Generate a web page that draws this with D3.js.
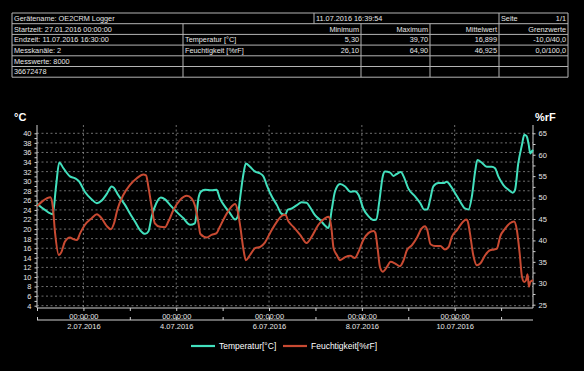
<!DOCTYPE html>
<html>
<head>
<meta charset="utf-8">
<script src="https://cdn.jsdelivr.net/npm/d3@7"></script>
<style>
  html, body { margin: 0; padding: 0; background: #000; }
  svg { display: block; }
</style>
</head>
<body>
<svg id="chart" width="584" height="371"></svg>
<script>
// Header table texts
const headerRow = ["Gerätename: OE2CRM Logger", "11.07.2016 16:39:54", "Seite", "1/1"];
const infoLabels = ["Startzeit: 27.01.2016 00:00:00", "Endzeit: 11.07.2016 16:30:00", "Messkanäle: 2", "Messwerte: 8000", "36672478"];
const statHeaders = ["Minimum", "Maximum", "Mittelwert", "Grenzwerte"];
const channelNames = ["Temperatur [°C]", "Feuchtigkeit [%rF]"];
const statValues = [
  ["5,30", "39,70", "16,899", "-10,0/40,0"],
  ["26,10", "64,90", "46,925", "0,0/100,0"]
];

// Series: days since 01.07.2016 00:00
const tempDays = [0, 0.17, 0.34, 0.41, 0.48, 0.57, 0.71, 0.82, 0.91, 1.03, 1.18, 1.29, 1.39, 1.5, 1.61, 1.66, 1.75, 1.9, 2.0, 2.11, 2.22, 2.33, 2.4, 2.47, 2.57, 2.67, 2.76, 2.87, 3.01, 3.15, 3.3, 3.4, 3.44, 3.48, 3.53, 3.62, 3.76, 3.87, 3.94, 4.05, 4.16, 4.27, 4.32, 4.38, 4.45, 4.5, 4.59, 4.7, 4.81, 4.88, 4.95, 5.06, 5.17, 5.27, 5.35, 5.4, 5.49, 5.6, 5.7, 5.81, 5.88, 5.99, 6.1, 6.21, 6.28, 6.35, 6.42, 6.53, 6.64, 6.75, 6.85, 6.93, 7.03, 7.14, 7.25, 7.31, 7.38, 7.45, 7.5, 7.61, 7.68, 7.75, 7.84, 7.9, 8.0, 8.15, 8.26, 8.34, 8.41, 8.47, 8.54, 8.65, 8.76, 8.83, 8.9, 9.01, 9.12, 9.22, 9.3, 9.37, 9.44, 9.49, 9.58, 9.69, 9.8, 9.87, 9.94, 10.05, 10.16, 10.25, 10.3, 10.37, 10.45, 10.5, 10.55, 10.59, 10.63, 10.66, 10.69];
const tempValues = [25.3, 24.0, 23.1, 28.9, 33.9, 32.7, 31.0, 30.6, 29.9, 27.8, 26.2, 25.4, 25.9, 27.3, 28.9, 28.6, 27.1, 25.0, 23.3, 21.6, 19.8, 19.0, 19.5, 22.6, 25.4, 26.6, 26.2, 25.0, 23.6, 22.3, 20.9, 21.2, 23.3, 26.5, 27.8, 28.2, 28.1, 28.2, 26.4, 24.7, 23.3, 22.0, 22.5, 26.8, 31.6, 33.7, 33.0, 32.0, 31.6, 31.0, 29.2, 26.8, 25.0, 23.2, 23.0, 24.0, 24.3, 25.0, 25.6, 25.5, 24.6, 22.9, 21.9, 20.7, 20.2, 24.0, 27.8, 29.4, 28.9, 27.8, 27.9, 27.1, 24.3, 22.7, 21.9, 22.0, 26.1, 31.0, 32.0, 31.8, 31.1, 31.5, 31.9, 31.0, 28.5, 26.8, 25.4, 24.1, 24.1, 26.1, 28.9, 29.6, 29.6, 29.9, 29.2, 27.5, 25.7, 24.3, 24.1, 26.8, 32.0, 34.4, 33.9, 33.0, 33.0, 32.7, 31.0, 29.2, 28.2, 27.6, 28.2, 33.7, 37.6, 39.7, 39.4, 37.9, 35.8, 36.2, 36.5];

const humDays = [0, 0.1, 0.21, 0.29, 0.34, 0.39, 0.47, 0.53, 0.6, 0.71, 0.78, 0.86, 0.93, 1.03, 1.18, 1.29, 1.39, 1.5, 1.59, 1.66, 1.73, 1.86, 2.0, 2.15, 2.29, 2.35, 2.4, 2.47, 2.54, 2.65, 2.76, 2.83, 2.94, 3.08, 3.23, 3.33, 3.41, 3.48, 3.52, 3.66, 3.76, 3.87, 3.94, 4.05, 4.16, 4.27, 4.32, 4.38, 4.45, 4.5, 4.59, 4.7, 4.81, 4.91, 5.02, 5.17, 5.27, 5.35, 5.42, 5.52, 5.67, 5.81, 5.92, 6.06, 6.21, 6.29, 6.34, 6.39, 6.46, 6.53, 6.64, 6.75, 6.85, 6.93, 7.03, 7.14, 7.25, 7.29, 7.34, 7.39, 7.45, 7.54, 7.62, 7.72, 7.82, 7.9, 7.97, 8.08, 8.18, 8.29, 8.36, 8.41, 8.48, 8.58, 8.69, 8.79, 8.87, 8.94, 9.05, 9.15, 9.25, 9.28, 9.33, 9.4, 9.48, 9.55, 9.66, 9.76, 9.85, 9.91, 9.98, 10.09, 10.19, 10.28, 10.34, 10.4, 10.45, 10.5, 10.54, 10.57, 10.6, 10.63, 10.69];
const humValues = [48.0, 49.0, 49.8, 50.1, 47.9, 41.7, 36.6, 37.4, 39.7, 40.7, 40.3, 40.1, 41.7, 43.6, 45.2, 46.1, 45.2, 43.4, 42.6, 44.0, 47.1, 50.6, 52.9, 54.5, 55.4, 55.2, 52.5, 47.9, 44.0, 43.2, 43.1, 44.4, 47.1, 49.4, 50.4, 49.8, 47.9, 44.0, 41.5, 40.7, 41.3, 41.7, 43.2, 45.5, 47.5, 48.5, 47.1, 43.2, 37.8, 35.4, 36.6, 38.2, 38.5, 39.5, 41.7, 44.4, 45.7, 46.0, 44.4, 43.2, 41.3, 39.4, 40.9, 43.6, 45.2, 45.5, 43.2, 38.2, 36.6, 35.4, 36.1, 36.4, 35.9, 37.4, 40.1, 41.7, 42.2, 41.8, 38.1, 33.8, 32.7, 33.8, 35.0, 34.6, 34.0, 35.4, 37.7, 38.9, 40.5, 42.8, 43.3, 42.4, 39.1, 38.7, 38.7, 37.9, 38.5, 40.9, 42.4, 44.0, 44.9, 44.5, 41.6, 36.6, 34.2, 34.6, 36.6, 37.7, 37.9, 38.1, 40.9, 42.8, 44.0, 44.4, 42.4, 37.0, 31.5, 30.3, 30.8, 32.1, 29.2, 30.3, 30.7];

const tempTicks = d3.range(4, 41, 2);
const humTicks = d3.range(25, 66, 5);
const startDate = new Date(2016, 6, 1, 0, 0, 0);
const endDate = new Date(2016, 6, 11, 16, 30, 0);

const toDate = (d) => new Date(startDate.getTime() + d * 864e5);

const svg = d3.select("#chart");
const font = "'Liberation Sans', Arial, sans-serif";
const gridColor = "#8a8a8a";

// ---- header table ----
const table = svg.append("g").attr("font-family", font).attr("font-size", "7.3px").attr("fill", "#e6e6e6");
const rowY = [13, 23.7, 34.4, 45.1, 55.8, 66.5, 77.2];
const colX = [12, 183, 361, 430, 499, 568];
const lineColor = "#b4b4b4";

function hLine(x1, x2, y) {
  table.append("line").attr("x1", x1).attr("x2", x2).attr("y1", y).attr("y2", y)
    .attr("stroke", lineColor).attr("stroke-width", 1);
}
function vLine(x, y1, y2) {
  table.append("line").attr("x1", x).attr("x2", x).attr("y1", y1).attr("y2", y2)
    .attr("stroke", lineColor).attr("stroke-width", 1);
}
function cellText(x, row, txt, anchor = "start") {
  table.append("text").attr("x", x).attr("y", rowY[row] + 7.8)
    .attr("text-anchor", anchor).text(txt);
}

rowY.forEach((y) => hLine(colX[0], colX[5], y));
vLine(colX[0], rowY[0], rowY[6]);
vLine(colX[5], rowY[0], rowY[6]);
vLine(314, rowY[0], rowY[1]);
vLine(499, rowY[0], rowY[1]);
colX.slice(1, 5).forEach((x) => vLine(x, rowY[1], rowY[6]));

cellText(14, 0, headerRow[0]);
cellText(316, 0, headerRow[1]);
cellText(501, 0, headerRow[2]);
cellText(566, 0, headerRow[3], "end");
infoLabels.forEach((t, i) => cellText(14, i + 1, t));
statHeaders.forEach((t, i) => cellText(colX[i + 2] - 2, 1, t, "end"));
channelNames.forEach((name, r) => {
  cellText(185, r + 2, name);
  statValues[r].forEach((v, i) => cellText(colX[i + 2] - 2, r + 2, v, "end"));
});

// ---- chart ----
const plot = { left: 37, right: 533, top: 125, bottom: 308 };

const x = d3.scaleTime().domain([startDate, endDate]).range([plot.left, plot.right]);
const yT = d3.scaleLinear().domain([4, 40]).range([305.7, 133.3]);
const yH = d3.scaleLinear().domain([25, 65]).range([304.7, 133.3]);

const dayTicks = d3.timeDay.range(d3.timeDay.offset(startDate, 1), endDate);
const majorTicks = dayTicks.filter((d, i) => i % 2 === 0);

// horizontal grid
svg.append("g")
  .selectAll("line")
  .data(tempTicks)
  .enter().append("line")
  .attr("x1", plot.left).attr("x2", plot.right)
  .attr("y1", (d) => yT(d)).attr("y2", (d) => yT(d))
  .attr("stroke", gridColor).attr("stroke-width", 0.8)
  .attr("stroke-dasharray", "2,2.5");

// vertical grid
svg.append("g")
  .selectAll("line")
  .data(majorTicks)
  .enter().append("line")
  .attr("x1", (d) => x(d)).attr("x2", (d) => x(d))
  .attr("y1", plot.top).attr("y2", plot.bottom)
  .attr("stroke", gridColor).attr("stroke-width", 0.8)
  .attr("stroke-dasharray", "2,2.5");

// left axis
const leftAxis = svg.append("g")
  .attr("transform", `translate(${plot.left},0)`)
  .call(d3.axisLeft(yT).tickValues(d3.range(4, 41, 1)).tickSize(2.5)
    .tickFormat((d) => (d % 2 === 0 ? d : "")));
leftAxis.select(".domain").attr("d", `M0,${plot.top}V${plot.bottom}`);

// right axis
const rightAxis = svg.append("g")
  .attr("transform", `translate(${plot.right},0)`)
  .call(d3.axisRight(yH).tickValues(d3.range(25, 66, 2.5)).tickSize(2.5)
    .tickFormat((d) => (d % 5 === 0 ? d : "")));
rightAxis.select(".domain").attr("d", `M0,${plot.top}V${plot.bottom}`);

// time axis (top row)
const timeAxis = svg.append("g")
  .attr("transform", `translate(0,${plot.bottom})`)
  .call(d3.axisBottom(x).tickValues([startDate, ...dayTicks])
    .tickSize(3).tickPadding(3)
    .tickFormat((d, i) => (i % 2 === 1 ? d3.timeFormat("%H:%M:%S")(d) : "")));
timeAxis.select(".domain").attr("d", `M${plot.left},0H${plot.right}`);

// date axis (second row)
const dateAxis = svg.append("g")
  .attr("transform", `translate(0,320)`)
  .call(d3.axisBottom(x).tickValues([startDate, ...dayTicks])
    .tickSize(0).tickPadding(4)
    .tickFormat((d, i) => (i % 2 === 1 ? d3.timeFormat("%-d.%m.%Y")(d) : "")));
dateAxis.select(".domain").attr("d", `M${plot.left},0H${plot.right}`);
dateAxis.selectAll(".tick line").attr("y2", -3);

[leftAxis, rightAxis, timeAxis, dateAxis].forEach((ax) => {
  ax.attr("font-family", font).attr("font-size", "7.5px");
  ax.select(".domain").attr("stroke", "#d0d0d0");
  ax.selectAll(".tick line").attr("stroke", "#d0d0d0");
  ax.selectAll(".tick text").attr("fill", "#e6e6e6");
});

// axis titles
svg.append("text").attr("x", 14).attr("y", 121)
  .attr("font-family", font).attr("font-size", "11px").attr("font-weight", "bold")
  .attr("fill", "#fff").text("°C");
svg.append("text").attr("x", 535).attr("y", 121)
  .attr("font-family", font).attr("font-size", "11px").attr("font-weight", "bold")
  .attr("fill", "#fff").text("%rF");

// series
const tempColor = "#42e0bd";
const humColor = "#c84a32";

const tempLine = d3.line()
  .x((d, i) => x(toDate(tempDays[i])))
  .y((d) => yT(d))
  .curve(d3.curveMonotoneX);
const humLine = d3.line()
  .x((d, i) => x(toDate(humDays[i])))
  .y((d) => yH(d))
  .curve(d3.curveMonotoneX);

svg.append("path").attr("d", tempLine(tempValues))
  .attr("fill", "none").attr("stroke", tempColor).attr("stroke-width", 2);
svg.append("path").attr("d", humLine(humValues))
  .attr("fill", "none").attr("stroke", humColor).attr("stroke-width", 2);

// legend
const legend = svg.append("g").attr("font-family", font).attr("font-size", "8.5px").attr("fill", "#fff");
const legendItems = [
  { label: "Temperatur[°C]", color: tempColor, x: 191 },
  { label: "Feuchtigkeit[%rF]", color: humColor, x: 283 }
];
legendItems.forEach((it) => {
  legend.append("line").attr("x1", it.x).attr("x2", it.x + 24).attr("y1", 346).attr("y2", 346)
    .attr("stroke", it.color).attr("stroke-width", 2.2);
  legend.append("text").attr("x", it.x + 28).attr("y", 349).text(it.label);
});
</script>
</body>
</html>
